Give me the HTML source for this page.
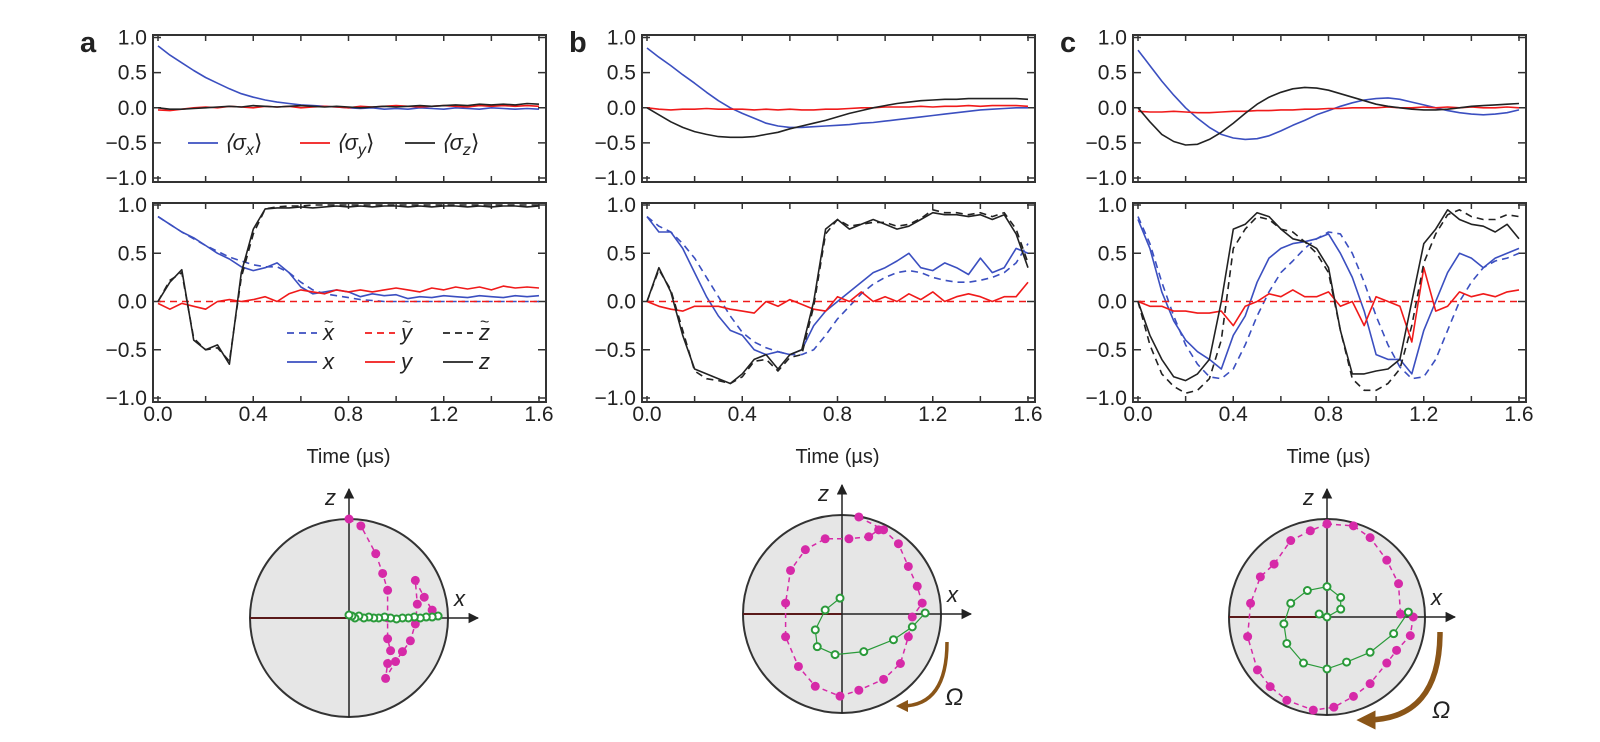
<!DOCTYPE html>
<html><head><meta charset="utf-8">
<style>
html,body{margin:0;padding:0;background:#fff;}
svg{display:block;}
text{font-family:"Liberation Sans",sans-serif;fill:#222;}
</style></head>
<body>
<svg id="fig" width="1600" height="742" viewBox="0 0 1600 742" xmlns="http://www.w3.org/2000/svg"></svg>
<script>
// ---------- data ----------
const tStep = 0.05;
const xTicks = ["0.0","0.4","0.8","1.2","1.6"];
const yTicks = ["1.0","0.5","0.0","\u22120.5","\u22121.0"];
const yTickVals = [1,0.5,0,-0.5,-1];

// Panel a
const aSx = [.88,.75,.64,.53,.43,.35,.27,.2,.15,.11,.08,.06,.04,.03,.02,.01,0,-.01,0,-.02,-.01,-.02,0,-.01,-.02,0,-.01,-.02,0,-.01,-.02,-.01,-.02];
const aSy = [-.03,-.04,-.02,0,.01,0,.02,.01,0,.02,.01,.02,0,.01,.02,.01,0,.02,.01,.02,.03,.02,.01,.02,.03,.02,.01,.03,.02,.03,.02,.03,.02];
const aSz = [0,-.02,-.02,-.01,0,.01,.02,.01,.03,.02,.01,.02,.03,.02,.01,.02,.01,0,.01,.02,.01,.02,.03,.02,.03,.04,.03,.05,.04,.05,.04,.06,.05];
const aX  = [.88,.8,.72,.66,.58,.5,.44,.36,.32,.35,.4,.3,.15,.08,.1,.12,.1,.05,.08,.06,.07,.03,.05,.04,.06,.05,.04,.06,.05,.04,.06,.05,.06];
const aXt = [.88,.8,.72,.65,.58,.52,.46,.42,.38,.36,.36,.3,.2,.12,.08,.06,.04,.02,.01,0,0,0,0,0,0,0,0,0,0,0,0,0,0];
const aY  = [-.02,-.08,-.02,-.05,-.08,0,.02,0,.02,.05,0,.08,.12,.1,.08,.12,.1,.12,.1,.12,.14,.12,.1,.14,.12,.15,.13,.15,.12,.16,.14,.15,.14];
const aYt = [0,0,0,0,0,0,0,0,0,0,0,0,0,0,0,0,0,0,0,0,0,0,0,0,0,0,0,0,0,0,0,0,0];
const aZ  = [0,.2,.33,-.4,-.5,-.45,-.65,.3,.75,.96,.97,.97,.98,.97,.98,.99,.98,.99,.98,.99,.99,.98,.99,.98,.99,.99,.98,.99,.98,.99,.99,.98,.99];
const aZt = [0,.22,.3,-.38,-.5,-.48,-.62,.25,.7,.96,.98,.99,.99,1,1,1,1,1,1,1,1,1,1,1,1,1,1,1,1,1,1,1,1];

// Panel b
const bSx = [.85,.72,.6,.47,.35,.22,.1,0,-.08,-.15,-.22,-.26,-.28,-.28,-.27,-.26,-.25,-.24,-.22,-.21,-.19,-.17,-.15,-.13,-.11,-.09,-.07,-.05,-.03,-.02,-.01,0,0];
const bSy = [0,-.02,-.03,-.02,-.02,-.01,-.02,-.02,-.02,-.03,-.02,-.03,-.02,-.03,-.03,-.02,-.02,-.01,0,0,.01,.01,.01,.02,.01,.02,.02,.03,.02,.03,.03,.03,.02];
const bSz = [0,-.1,-.2,-.28,-.34,-.38,-.41,-.42,-.42,-.41,-.38,-.35,-.3,-.26,-.22,-.18,-.13,-.08,-.04,0,.03,.06,.08,.1,.11,.12,.12,.13,.13,.13,.13,.13,.12];
const bX  = [.88,.72,.72,.55,.3,.05,-.15,-.3,-.35,-.5,-.55,-.52,-.55,-.5,-.25,-.1,0,.1,.2,.3,.35,.42,.5,.35,.32,.4,.35,.28,.45,.3,.35,.55,.5];
const bXt = [.88,.78,.72,.6,.45,.25,.05,-.15,-.32,-.42,-.48,-.52,-.55,-.55,-.5,-.35,-.18,-.05,.08,.18,.25,.3,.32,.3,.25,.22,.2,.2,.22,.25,.3,.4,.6];
const bY  = [0,-.05,-.08,-.1,-.05,-.05,-.05,-.08,-.1,-.12,0,-.05,.02,-.03,-.08,-.1,.05,0,.1,0,.05,0,.08,.02,.1,0,.05,.08,.05,0,.05,.05,.2];
const bYt = [0,0,0,0,0,0,0,0,0,0,0,0,0,0,0,0,0,0,0,0,0,0,0,0,0,0,0,0,0,0,0,0,0];
const bZ  = [0,.35,.1,-.35,-.7,-.75,-.8,-.85,-.75,-.6,-.55,-.7,-.55,-.5,0,.75,.85,.75,.8,.85,.8,.75,.78,.85,.92,.9,.9,.88,.9,.85,.9,.7,.35];
const bZt = [0,.33,.12,-.3,-.72,-.8,-.82,-.85,-.78,-.62,-.6,-.72,-.58,-.55,-.05,.7,.85,.78,.8,.82,.82,.78,.8,.86,.95,.92,.92,.9,.92,.88,.92,.75,.4];

// Panel c
const cSx = [.82,.6,.38,.18,0,-.15,-.28,-.38,-.43,-.45,-.44,-.4,-.33,-.25,-.18,-.1,-.04,.02,.07,.11,.13,.14,.12,.08,.04,0,-.04,-.07,-.09,-.1,-.09,-.07,-.03];
const cSy = [-.05,-.06,-.06,-.05,-.06,-.07,-.07,-.06,-.05,-.05,-.04,-.04,-.03,-.03,-.02,-.02,-.01,-.01,0,0,0,.01,0,0,.01,0,.01,0,.01,0,0,.01,0];
const cSz = [0,-.2,-.38,-.48,-.53,-.52,-.45,-.35,-.22,-.08,.05,.15,.22,.27,.29,.28,.25,.2,.15,.1,.05,.02,0,-.02,-.03,-.03,-.02,0,.02,.03,.04,.05,.06];
const cX  = [.85,.55,.1,-.2,-.4,-.52,-.6,-.7,-.35,-.15,.2,.45,.55,.6,.62,.65,.7,.5,.25,-.1,-.55,-.6,-.6,-.75,-.3,0,.3,.5,.45,.35,.45,.5,.55];
const cXt = [.88,.6,.2,-.15,-.45,-.65,-.78,-.8,-.7,-.45,-.15,.1,.3,.42,.55,.65,.72,.7,.5,.2,-.15,-.45,-.68,-.8,-.78,-.6,-.3,0,.2,.35,.42,.45,.5];
const cY  = [0,-.05,-.05,-.1,-.1,-.12,-.12,-.1,-.25,-.05,0,.08,.05,.12,.05,.05,.1,-.05,0,-.25,.05,0,-.05,-.42,.35,-.1,-.05,.1,.05,.08,.05,.1,.12];
const cYt = [0,0,0,0,0,0,0,0,0,0,0,0,0,0,0,0,0,0,0,0,0,0,0,0,0,0,0,0,0,0,0,0,0];
const cZ  = [0,-.35,-.6,-.78,-.82,-.75,-.6,0,.75,.8,.92,.88,.75,.65,.62,.55,.35,-.3,-.75,-.75,-.72,-.7,-.6,0,.6,.75,.95,.85,.8,.78,.72,.8,.65];
const cZt = [0,-.45,-.75,-.88,-.95,-.92,-.8,-.4,.55,.75,.88,.85,.75,.72,.62,.5,.3,-.3,-.8,-.92,-.92,-.85,-.7,-.25,.4,.7,.9,.95,.88,.85,.85,.9,.88];

// Bloch trajectories (x, z)
const aMagX = [0,.12,.27,.34,.39,.39,.39,.42,.39,.37,.47,.54,.62,.67,.69,.67,.76,.84];
const aMagZ = [1,.93,.65,.45,.28,0,-.21,-.33,-.46,-.61,-.44,-.34,-.23,-.06,.14,.38,.21,.08];
const aGrnX = [.9,.84,.78,.72,.66,.6,.54,.48,.42,.36,.3,.25,.2,.15,.1,.06,.03,0];
const aGrnZ = [.02,.01,.01,0,.01,0,0,-.01,0,.01,0,0,.01,0,.02,0,.02,.03];
const bMagX = [.17,.42,.57,.67,.76,.81,.71,.67,.59,.42,.17,-.02,-.27,-.44,-.57,-.57,-.52,-.37,-.17,.07,.27,.37];
const bMagZ = [.98,.85,.71,.48,.28,.11,-.03,-.23,-.5,-.66,-.77,-.83,-.73,-.53,-.23,.11,.44,.65,.76,.76,.78,.85];
const bGrnX = [.84,.71,.52,.22,-.07,-.25,-.27,-.17,-.02];
const bGrnZ = [.01,-.13,-.26,-.38,-.41,-.33,-.16,.04,.16];
const cMagX = [0,.27,.44,.61,.73,.75,.88,.85,.71,.61,.44,.27,.07,-.14,-.41,-.58,-.71,-.81,-.78,-.68,-.54,-.37,-.17,0];
const cMagZ = [.95,.93,.81,.58,.34,.03,0,-.19,-.34,-.47,-.68,-.81,-.92,-.95,-.85,-.71,-.54,-.2,.14,.41,.54,.78,.88,.95];
const cGrnX = [.83,.68,.44,.2,0,-.24,-.41,-.44,-.37,-.2,0,.14,.14,0,-.08];
const cGrnZ = [.05,-.17,-.36,-.46,-.53,-.47,-.27,-.07,.14,.27,.31,.2,.08,0,.03];

// ---------- drawing ----------
const NS = "http://www.w3.org/2000/svg";
const svg = document.getElementById("fig");
function mk(tag, attrs, parent){
  const e = document.createElementNS(NS, tag);
  for (const k in attrs) e.setAttribute(k, attrs[k]);
  (parent||svg).appendChild(e);
  return e;
}
const BLUE="#3b4fc0", RED="#f01a1a", BLACK="#222";

const panels = [
  {id:"a", left:153, series:[[aSx,aSy,aSz],[aX,aXt,aY,aYt,aZ,aZt]]},
  {id:"b", left:642, series:[[bSx,bSy,bSz],[bX,bXt,bY,bYt,bZ,bZt]]},
  {id:"c", left:1133, series:[[cSx,cSy,cSz],[cX,cXt,cY,cYt,cZ,cZt]]}
];
const boxes = [{top:35, bot:182, y1:37.5, ym1:178},{top:203, bot:402, y1:205, ym1:398}];

panels.forEach(p=>{
  const g = mk("g",{});
  
  
  const x0 = p.left+5, xs = 381/1.6;
  const X = t => x0 + t*xs;
  const lt = mk("text",{x:p.left-73, y:52, "font-size":29, "font-weight":"bold"}, g);
  lt.textContent = p.id;
  
  
  boxes.forEach((b,bi)=>{
    const Y = v => b.y1 + (1-v)/2*(b.ym1-b.y1);
    const right = p.left+393;
    const ax = mk("g",{}, g);
    
    
    for(let k=0;k<=8;k++){
      const tx = X(k*0.2);
      mk("line",{x1:tx,x2:tx,y1:b.top,y2:b.top+6,stroke:"#333","stroke-width":1.5},ax);
      mk("line",{x1:tx,x2:tx,y1:b.bot,y2:b.bot-6,stroke:"#333","stroke-width":1.5},ax);
    }
    yTickVals.forEach((v,i)=>{
      const ty = Y(v);
      mk("line",{x1:p.left,x2:p.left+8,y1:ty,y2:ty,stroke:"#333","stroke-width":1.5},ax);
      mk("line",{x1:right,x2:right-8,y1:ty,y2:ty,stroke:"#333","stroke-width":1.5},ax);
      const tl = mk("text",{x:p.left-6,y:ty+7,"text-anchor":"end","font-size":21},ax);
      tl.textContent = yTicks[i];
      
      
    });
    const sets = p.series[bi];
    const styles = bi===0 ? [[BLUE,0],[RED,0],[BLACK,0]] :
      [[BLUE,0],[BLUE,1],[RED,0],[RED,1],[BLACK,0],[BLACK,1]];
    const names = bi===0 ? ["sigma-x","sigma-y","sigma-z"] : ["x","x-tilde","y","y-tilde","z","z-tilde"];
    sets.forEach((arr,si)=>{
      const d = arr.map((v,i)=>(i?"L":"M")+X(i*tStep).toFixed(1)+","+Y(v).toFixed(1)).join("");
      const pth = mk("path",{d:d,fill:"none",stroke:styles[si][0],"stroke-width":1.6,"stroke-linejoin":"round"},ax);
      if(styles[si][1]) pth.setAttribute("stroke-dasharray","7,5");
      
      
    });
    const fr = mk("rect",{x:p.left,y:b.top,width:right-p.left,height:b.bot-b.top,fill:"none",stroke:"#333","stroke-width":2},ax);
    
    
  });
  xTicks.forEach((s,i)=>{
    const tl = mk("text",{x:X(i*0.4),y:421,"text-anchor":"middle","font-size":21},g);
    tl.textContent = s;
    
    
  });
  const xl = mk("text",{x:X(0.8),y:463,"text-anchor":"middle","font-size":20},g);
  xl.textContent = "Time (\u00b5s)";
  
  
});

function legendEntry(x1,y,color,dash,label,sub,name,tilde){
  const g = mk("g",{});
  
  
  const l = mk("line",{x1:x1,x2:x1+30,y1:y,y2:y,stroke:color,"stroke-width":1.8},g);
  if(dash) l.setAttribute("stroke-dasharray","7,5");
  const t = mk("text",{x:x1+36,y:y+7,"font-size":22,"font-family":"Liberation Serif, serif","font-style":"italic"},g);
  t.textContent = label;
  if(sub){ const ts = mk("tspan",{"font-size":16,dy:5},t); ts.textContent=sub; const te=mk("tspan",{dy:-5,"font-style":"normal"},t); te.textContent="\u27e9"; }
  if(tilde){ const tt = mk("text",{x:x1+37,y:y-6,"font-size":16,"font-family":"Liberation Serif, serif"},g); tt.textContent="~"; }
}
legendEntry(188,143,BLUE,0,"\u27e8\u03c3","x","legend-sigma-x");
legendEntry(300,143,RED,0,"\u27e8\u03c3","y","legend-sigma-y");
legendEntry(405,143,BLACK,0,"\u27e8\u03c3","z","legend-sigma-z");
legendEntry(287,333,BLUE,1,"x",null,"legend-x-tilde",1);
legendEntry(365,333,RED,1,"y",null,"legend-y-tilde",1);
legendEntry(443,333,BLACK,1,"z",null,"legend-z-tilde",1);
legendEntry(287,362,BLUE,0,"x",null,"legend-x");
legendEntry(365,362,RED,0,"y",null,"legend-y");
legendEntry(443,362,BLACK,0,"z",null,"legend-z");

const blochs = [
  {id:"a",cx:349,cy:618,r:99,mx:aMagX,mz:aMagZ,gx:aGrnX,gz:aGrnZ,om:null},
  {id:"b",cx:842,cy:614,r:99,mx:bMagX,mz:bMagZ,gx:bGrnX,gz:bGrnZ,om:{sx:947,sy:642,ex:902,ey:706,lx:945,ly:705,w:3.5}},
  {id:"c",cx:1327,cy:617,r:98,mx:cMagX,mz:cMagZ,gx:cGrnX,gz:cGrnZ,om:{sx:1440,sy:632,ex:1366,ey:720,lx:1432,ly:718,w:5.5}}
];
mk("defs",{}).innerHTML='<marker id="ah" viewBox="0 0 10 10" refX="9" refY="5" markerWidth="7" markerHeight="7" orient="auto"><path d="M0,0L10,5L0,10z" fill="#222"/></marker><marker id="ahb" viewBox="0 0 10 10" refX="5" refY="5" markerWidth="3.5" markerHeight="3.5" orient="auto"><path d="M0,0L10,5L0,10z" fill="#8a5518"/></marker>';
blochs.forEach(B=>{
  const g = mk("g",{});
  
  
  mk("circle",{cx:B.cx,cy:B.cy,r:B.r,fill:"#e6e6e6",stroke:"#333","stroke-width":2},g);
  mk("line",{x1:B.cx-B.r,x2:B.cx,y1:B.cy,y2:B.cy,stroke:"#5a1a1a","stroke-width":2},g);
  mk("line",{x1:B.cx,x2:B.cx+B.r+30,y1:B.cy,y2:B.cy,stroke:"#222","stroke-width":1.5,"marker-end":"url(#ah)"},g);
  mk("line",{x1:B.cx,x2:B.cx,y1:B.cy+B.r,y2:B.cy-B.r-30,stroke:"#222","stroke-width":1.5,"marker-end":"url(#ah)"},g);
  const zl = mk("text",{x:B.cx-24,y:B.cy-B.r-14,"font-size":22,"font-style":"italic"},g); zl.textContent="z";
   
  const xl = mk("text",{x:B.cx+B.r+6,y:B.cy-12,"font-size":22,"font-style":"italic"},g); xl.textContent="x";
   
  const px = v=>B.cx+v*B.r, pz=v=>B.cy-v*B.r;
  const md = B.mx.map((v,i)=>(i?"L":"M")+px(v).toFixed(1)+","+pz(B.mz[i]).toFixed(1)).join("");
  mk("path",{d:md,fill:"none",stroke:"#d62aa8","stroke-width":1.5,"stroke-dasharray":"5,4"},g);
  B.mx.forEach((v,i)=>{
    const c = mk("circle",{cx:px(v),cy:pz(B.mz[i]),r:4.5,fill:"#d62aa8"},g);
    
    
  });
  const gd = B.gx.map((v,i)=>(i?"L":"M")+px(v).toFixed(1)+","+pz(B.gz[i]).toFixed(1)).join("");
  mk("path",{d:gd,fill:"none",stroke:"#2a9a3a","stroke-width":1.2},g);
  B.gx.forEach((v,i)=>{
    const c = mk("circle",{cx:px(v),cy:pz(B.gz[i]),r:3.5,fill:"#fff",stroke:"#2a9a3a","stroke-width":2},g);
    
    
  });
  if(B.om){
    const o=B.om;
    const a = mk("path",{d:`M${o.sx},${o.sy} Q${o.sx},${o.ey} ${o.ex},${o.ey}`,fill:"none",stroke:"#8a5518","stroke-width":o.w,"marker-end":"url(#ahb)"},g);
    
    
    const ol = mk("text",{x:o.lx,y:o.ly,"font-size":24,"font-style":"italic","font-family":"Liberation Serif, serif",fill:"#8a5518"},g);
    ol.textContent="\u03a9";
    
    
  }
});
</script>
</body></html>
